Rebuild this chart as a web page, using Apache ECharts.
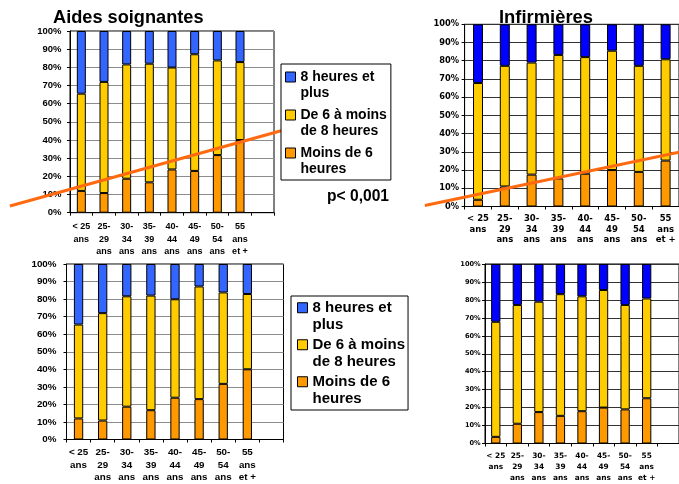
<!DOCTYPE html>
<html>
<head>
<meta charset="utf-8">
<script src="https://cdn.jsdelivr.net/npm/echarts@6/dist/echarts.min.js"></script>
<style>
  html, body { margin: 0; padding: 0; background: #fff; }
  #chart { width: 679px; height: 484px; }
</style>
</head>
<body>
<div id="chart"></div>
<script>
// Age groups (x axis)
const ageLabels = ['< 25\nans', '25-\n29\nans', '30-\n34\nans', '35-\n39\nans', '40-\n44\nans', '45-\n49\nans', '50-\n54\nans', '55\nans\net +'];

// Sleep duration classes
const nameMoins6 = 'Moins de 6 heures';
const name6a8 = 'De 6 à moins de 8 heures';
const name8plus = '8 heures et plus';
const legendOrder = [name8plus, name6a8, nameMoins6];
const legendText = {
  [name8plus]: '8 heures et\nplus',
  [name6a8]: 'De 6 à moins\nde 8 heures',
  [nameMoins6]: 'Moins de 6\nheures'
};

// Aides soignantes, % per age group
const aidesMoins6 = [12.0, 10.8, 18.7, 16.7, 23.8, 23.0, 31.7, 40.0];
const aides6a8    = [53.5, 61.2, 62.9, 65.3, 56.1, 64.2, 52.1, 42.9];
const aides8plus  = [34.5, 28.0, 18.4, 18.0, 20.1, 12.8, 16.2, 17.1];

// Infirmières, % per age group
const infMoins6 = [3.7, 11.0, 17.5, 15.4, 18.0, 20.0, 19.0, 25.2];
const inf6a8    = [64.1, 66.2, 61.5, 67.8, 64.0, 65.5, 58.2, 55.6];
const inf8plus  = [32.2, 22.8, 21.0, 16.8, 18.0, 14.5, 22.8, 19.2];

// Trend of "Moins de 6 heures": [position in category units, %]
const aidesTrend = [[-3.15, 3.7], [9.65, 48.0]];
const infTrend   = [[-1.95, 0.5], [7.36, 29.8]];

const pValue = 'p< 0,001';

const ARIAL = 'Liberation Sans, Arial, sans-serif';
const VERDANA = 'DejaVu Sans, Verdana, sans-serif';

const panels = [
  { grid: { left: 70, top: 31, width: 204, height: 181.7 },
    cats: ageLabels.concat(['']), m6: aidesMoins6, mid: aides6a8, p8: aides8plus,
    blue: '#3366FF', barWidth: 9, split: '#8c8c8c', trend: aidesTrend,
    yl: { fontFamily: ARIAL, fontSize: 9.5, margin: 8.5 },
    xl: { fontFamily: ARIAL, fontSize: 9, lineHeight: 12.3, margin: 8 } },
  { grid: { left: 464.6, top: 24.3, width: 219.2, height: 182.2 },
    cats: ageLabels, m6: infMoins6, mid: inf6a8, p8: inf8plus,
    blue: '#0000FF', barWidth: 10, split: '#333333', trend: infTrend,
    yl: { fontFamily: VERDANA, fontSize: 8.3, margin: 5.5 },
    xl: { fontFamily: VERDANA, fontSize: 8.5, lineHeight: 10.5, margin: 7.5 } },
  { grid: { left: 66.5, top: 264, width: 217, height: 177.7 },
    cats: ageLabels.concat(['']), m6: aidesMoins6, mid: aides6a8, p8: aides8plus,
    blue: '#3366FF', barWidth: 9.3, split: '#8c8c8c', trend: null,
    yl: { fontFamily: ARIAL, fontSize: 9.8, margin: 10 },
    xl: { fontFamily: ARIAL, fontSize: 9.8, lineHeight: 12.5, margin: 7 } },
  { grid: { left: 485, top: 264, width: 208, height: 181 },
    cats: ageLabels.concat(['']), m6: infMoins6, mid: inf6a8, p8: inf8plus,
    blue: '#0000FF', barWidth: 9.3, split: '#333333', trend: null,
    yl: { fontFamily: VERDANA, fontSize: 6.6, margin: 4.3 },
    xl: { fontFamily: VERDANA, fontSize: 7.4, lineHeight: 11, margin: 7.5 } }
];

const grid = [], xAxis = [], yAxis = [], series = [];

panels.forEach((p, i) => {
  grid.push(Object.assign({ show: true, borderColor: '#000', borderWidth: 1, backgroundColor: 'rgba(0,0,0,0)' }, p.grid));
  xAxis.push({
    type: 'category', gridIndex: i, data: p.cats, boundaryGap: true,
    axisLine: { show: true, lineStyle: { color: '#000', width: 1 } },
    axisTick: { show: true, interval: 0, length: 3, lineStyle: { color: '#000' } },
    axisLabel: Object.assign({ interval: 0, color: '#000', fontWeight: 'bold' }, p.xl),
    splitLine: { show: false }
  });
  yAxis.push({
    type: 'value', gridIndex: i, min: 0, max: 100, interval: 10,
    axisLine: { show: true, lineStyle: { color: '#000', width: 1 } },
    axisTick: { show: true, length: 3, lineStyle: { color: '#000' } },
    axisLabel: Object.assign({ formatter: '{value}%', color: '#000', fontWeight: 'bold' }, p.yl),
    splitLine: { show: true, lineStyle: { color: p.split, width: 1 } }
  });

  [[nameMoins6, p.m6, '#FF9900'], [name6a8, p.mid, '#FFCC00'], [name8plus, p.p8, p.blue]].forEach(([name, data, color]) => {
    series.push({
      type: 'bar', name, data, stack: 'stack' + i,
      xAxisIndex: i, yAxisIndex: i, barWidth: p.barWidth,
      itemStyle: { color, borderColor: '#000', borderWidth: 1 },
      emphasis: { disabled: true }, silent: true
    });
  });
});

// Trend lines run past the plot area, so each gets an overlay grid whose
// x axis uses the same category units as the panel underneath.
panels.forEach((p) => {
  if (!p.trend) return;
  const g = grid.length;
  const slot = p.grid.width / p.cats.length;
  const xmin = p.trend[0][0], xmax = p.trend[p.trend.length - 1][0];
  grid.push({
    show: false, top: p.grid.top, height: p.grid.height,
    left: p.grid.left + (xmin + 0.5) * slot,
    width: (xmax - xmin) * slot
  });
  xAxis.push({ type: 'value', gridIndex: g, show: false, min: xmin, max: xmax });
  yAxis.push({ type: 'value', gridIndex: g, show: false, min: 0, max: 100 });
  series.push({
    type: 'line', name: 'tendance', data: p.trend,
    xAxisIndex: g, yAxisIndex: g, symbol: 'none', z: 3, silent: true,
    lineStyle: { color: '#FF6A10', width: 3 }
  });
});

function makeLegend(left, top, fontSize, lineHeight, itemHeight, gap, pad) {
  return {
    data: legendOrder, orient: 'vertical', left, top,
    padding: pad, itemGap: gap, selectedMode: false,
    backgroundColor: '#fff', borderColor: '#000', borderWidth: 1,
    itemWidth: 10, itemHeight,
    icon: 'path://M0,0H10V10H0ZM0,' + itemHeight + 'L0,' + itemHeight,
    itemStyle: { borderColor: '#000', borderWidth: 1 },
    formatter: (n) => legendText[n],
    textStyle: { fontFamily: ARIAL, fontSize, fontWeight: 'bold', color: '#000', lineHeight }
  };
}

const chart = echarts.init(document.getElementById('chart'), null, { renderer: 'canvas' });
chart.setOption({
  animation: false,
  backgroundColor: '#fff',
  title: [
    { text: 'Aides soignantes', left: 53, top: 8.5, padding: 0,
      textStyle: { fontFamily: ARIAL, fontSize: 18.2, fontWeight: 'bold', color: '#000' } },
    { text: 'Infirmières', left: 499, top: 8.5, padding: 0,
      textStyle: { fontFamily: ARIAL, fontSize: 18.4, fontWeight: 'bold', color: '#000' } },
    { text: pValue, left: 327, top: 188.5, padding: 0,
      textStyle: { fontFamily: ARIAL, fontSize: 15.6, fontWeight: 'bold', color: '#000' } }
  ],
  legend: [
    makeLegend(281, 64, 14, 16, 26, 6, [5, 4, 3, 4]),
    makeLegend(291, 296, 15, 17.5, 27.5, 2, [3, 3, 2, 6])
  ],
  grid, xAxis, yAxis, series
});
</script>
</body>
</html>
